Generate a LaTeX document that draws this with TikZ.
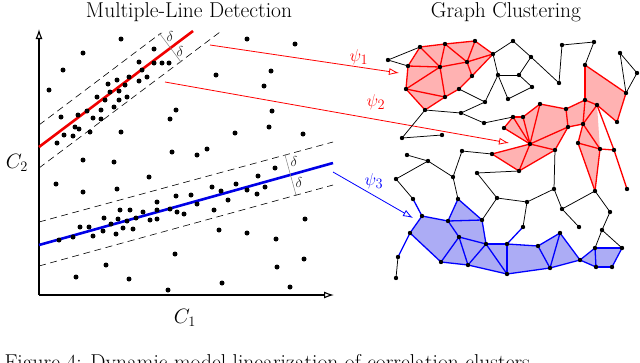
\documentclass[tikz,border=0pt]{standalone}
\usetikzlibrary{arrows.meta}
\definecolor{pinkfill}{RGB}{255,178,178}
\definecolor{bluefill}{RGB}{172,172,245}
\definecolor{gline}{RGB}{0,0,230}
\definecolor{rline}{RGB}{240,0,0}
\begin{document}
\begin{tikzpicture}[x=1pt,y=-1pt,
  titletext/.style={font=\fontsize{21.5}{25}\selectfont, anchor=base},
  axislabel/.style={font=\fontsize{21}{25}\selectfont},
  psilabel/.style={font=\fontsize{19}{22}\selectfont},
  deltalabel/.style={font=\fontsize{15}{17}\selectfont, text=black!85},
  axis/.style={line width=1.1pt, -{Latex[open,length=10pt,width=7pt]}},
  fitline/.style={line width=2.6pt},
  bandline/.style={line width=0.6pt, dash pattern=on 7pt off 4.5pt},
  bracket/.style={gray, line width=0.5pt, {Bar[width=5pt]}-{Bar[width=5pt]}},
  maparrow/.style={line width=0.8pt, -{Latex[open,length=10pt,width=7pt]}},
  bedge/.style={black, line width=0.75pt},
  redge/.style={red, line width=1.3pt},
  blueedge/.style={blue, line width=1.3pt},
  gnode/.style={fill=black}
]
\useasboundingbox (0,0) rectangle (640,362);

% ---------------- titles ----------------
\node[titletext] (t1) at (189,17) {Multiple-Line Detection};
\node[titletext] (t2) at (506,17) {Graph Clustering};

% ---------------- axes ----------------
\coordinate (orig) at (39,295);
\coordinate (ytip) at (39,29);
\coordinate (xtip) at (334,295);
\draw[axis] (orig) -- (ytip);
\draw[axis] (orig) -- (xtip);
\node[axislabel] (c2) at (17,163) {$C_2$};
\node[axislabel] (c1) at (185,318) {$C_1$};

% ---------------- red line and band ----------------
\coordinate (r0) at (39,147);  \coordinate (r1) at (193,31);
\coordinate (ru0) at (39,125); \coordinate (ru1) at (161,33);
\coordinate (rl0) at (39,168); \coordinate (rl1) at (220,32);
\draw[bandline] (ru0) -- (ru1);
\draw[bandline] (rl0) -- (rl1);
\draw[fitline, rline] (r0) -- (r1);
\coordinate (rb0) at (160,34); \coordinate (rb1) at (181,62);
\draw[bracket] (rb0) -- (rb1);
\node[deltalabel] (rd1) at (170,36) {$\delta$};
\node[deltalabel] (rd2) at (180,51) {$\delta$};

% ---------------- blue line and band ----------------
\coordinate (b0l) at (39,245);  \coordinate (b1l) at (333,163);
\coordinate (bu0) at (39,222); \coordinate (bu1) at (333,142);
\coordinate (bl0) at (39,266); \coordinate (bl1) at (333,185);
\draw[bandline] (bu0) -- (bu1);
\draw[bandline] (bl0) -- (bl1);
\draw[fitline, gline] (b0l) -- (b1l);
\coordinate (bb0) at (285,155); \coordinate (bb1) at (296,195);
\draw[bracket] (bb0) -- (bb1);
\node[deltalabel] (bd1) at (294,161) {$\delta$};
\node[deltalabel] (bd2) at (299,182) {$\delta$};

% ---------------- scatter points ----------------
\foreach \x/\y in {121/39,83/53,154/49,63/70,49/90,139/62,154/63,162/63,169/63,142/70,
  129/77,147/77,139/81,117/80,108/84,125/85,119/91,110/92,97/97,105/100,127/97,119/100,
  114/107,101/110,87/111,78/115,61/117,93/118,101/119,75/127,79/129,90/132,64/135,73/136,
  57/143,121/132,176/110,170/119,216/75,247/39,295/44,271/71,264/86,272/111,269/127,
  235/133,303/134,172/152,197/155,207/149,83/160,114/162,149/177,258/176,275/168,
  56/184,83/192,117/189,157/202,176/196,191/195,212/187,221/191,236/184,247/190,257/194,
  265/187,228/200,197/204,120/210,130/210,143/212,157/210,170/209,177/212,184/214,214/210,
  104/218,118/219,136/218,150/220,157/219,127/221,111/224,80/227,89/227,123/228,133/229,
  103/231,116/234,93/236,73/237,59/240,219/230,247/233,305/219,276/239,175/254,106/265,
  277/267,304/259,76/277,129/279,222/283,168/290,290/287}
  \fill (\x,\y) circle[radius=2.5pt];

% ---------------- mapping arrows ----------------
\coordinate (p1s) at (210,45);  \coordinate (p1e) at (399,73);
\coordinate (p2s) at (165,82);  \coordinate (p2e) at (509,143);
\coordinate (p3s) at (333,172); \coordinate (p3e) at (413,218);
\draw[maparrow, red] (p1s) -- (p1e);
\draw[maparrow, red] (p2s) -- (p2e);
\draw[maparrow, blue] (p3s) -- (p3e);
\node[psilabel, text=red] (psi1) at (359,57) {$\psi_1$};
\node[psilabel, text=red] (psi2) at (376,102) {$\psi_2$};
\node[psilabel, text=blue] (psi3) at (374,181) {$\psi_3$};

% ---------------- graph nodes ----------------
\foreach \n/\x/\y in {a1/388/60,a2/420/47,a3/445/44,a4/475/41,a5/493/54,a6/467/62,a7/440/67,
  a8/408/66,a9/406/89,a10/445/97,a11/472/76,a12/459/89,a13/425/110,a14/513/41,a15/531/57,
  a16/498/75,a17/519/75,a18/532/87,a19/508/99,a20/485/102,a21/461/113,a22/484/123,
  a23/513/117,a24/523/117,a25/504/128,a26/540/104,a27/559/83,a28/562/45,a29/594/42,
  a30/585/65,a31/620/53,a32/637/73,a33/626/93,a34/585/100,a35/597/105,a36/566/109,
  a37/617/122,a38/568/127,a39/583/124,a40/530/144,a41/555/150,a42/492/154,a43/519/171,
  a44/578/143,a45/600/149,a46/614/150,a47/402/138,a48/442/135,a49/407/155,a50/428/161,
  a51/453/177,a52/462/151,a53/477/173,a54/396/179,a55/595/191,a56/627/189,
  b1/413/199,b2/422/216,b3/410/233,b4/398/257,b5/396/278,b6/458/199,b7/448/221,
  b8/482/220,b9/459/237,b10/441/262,b11/468/265,b12/486/244,b13/507/244,b14/507/274,
  b15/523/227,b16/538/246,b17/560/233,b18/550/268,b19/580/260,b20/595/248,b21/622/248,
  b22/612/267,b23/596/267,b24/497/198,b25/527/202,b26/554/189,b27/562/209,b28/579/227,
  b30/610/212,b31/602/230}
  \coordinate (\n) at (\x,\y);

% ---------------- cluster fills ----------------
\fill[pinkfill] (a2)--(a3)--(a4)--(a5)--(a11)--(a12)--(a10)--(a13)--(a9)--(a8)--cycle;
\fill[pinkfill] (a25)--(a23)--(a24)--(a26)--(a36)--(a38)--(a41)--(a43)--(a42)--(a40)--cycle;
\fill[pinkfill] (a36)--(a34)--(a39)--(a38)--cycle;
\fill[pinkfill] (a34)--(a30)--(a33)--(a37)--(a35)--cycle;
\fill[pinkfill] (a34)--(a35)--(a39)--cycle;
\fill[pinkfill] (a35)--(a39)--(a44)--(a55)--(a45)--cycle;
\fill[bluefill] (b3)--(b2)--(b7)--(b6)--(b8)--(b12)--(b13)--(b16)--(b17)--(b19)--(b20)
  --(b21)--(b22)--(b23)--(b19)--(b18)--(b14)--(b11)--(b10)--cycle;

% ---------------- black edges ----------------
\foreach \u/\v in {a1/a2,a1/a8,a5/a14,a14/a15,a5/a16,a16/a17,a15/a17,a17/a18,a18/a19,
  a16/a19,a16/a20,a12/a20,a13/a21,a21/a20,a21/a22,a22/a23,a13/a47,a47/a48,a15/a27,
  a27/a28,a28/a29,a29/a30,a31/a32,a31/a33,a32/a33,a49/a50,a50/a51,a51/a52,a50/a54,
  a52/a42,a43/a53,a54/b1,a51/b6,a53/b24,b24/b8,b24/b25,b25/b15,b25/b26,b26/a41,
  b26/b27,b27/b28,b27/a55,a55/b30,b30/b31,b31/b20,b31/b21,b4/b5}
  \draw[bedge] (\u) -- (\v);

% ---------------- red edges ----------------
\foreach \u/\v in {a2/a3,a3/a4,a4/a5,a5/a6,a5/a11,a11/a12,a12/a10,a10/a13,a13/a9,a9/a8,
  a8/a2,a2/a7,a3/a7,a3/a6,a4/a6,a8/a7,a7/a6,a9/a7,a7/a10,a9/a10,a6/a11,
  a25/a23,a23/a24,a24/a26,a26/a36,a36/a34,a34/a30,a30/a33,a33/a37,a37/a35,a35/a34,
  a36/a38,a34/a39,a38/a39,a35/a39,a39/a44,a39/a45,a44/a45,a45/a46,a35/a46,a46/a56,
  a44/a55,a45/a55,a25/a40,a23/a40,a24/a40,a26/a40,a38/a40,a40/a41,a38/a41,a40/a43,
  a40/a42,a42/a43,a41/a43}
  \draw[redge] (\u) -- (\v);

% ---------------- blue edges ----------------
\foreach \u/\v in {b1/b2,b2/b3,b3/b4,b2/b7,b3/b10,b7/b6,b6/b8,b7/b8,b7/b9,b8/b12,b9/b12,
  b9/b10,b9/b11,b10/b11,b11/b12,b11/b14,b12/b13,b12/b14,b13/b14,b13/b15,b13/b16,
  b16/b18,b14/b18,b16/b17,b17/b18,b17/b19,b18/b19,b19/b20,b19/b23,b20/b21,b21/b22,
  b22/b23,b20/b23}
  \draw[blueedge] (\u) -- (\v);

% ---------------- graph vertices ----------------
\foreach \n in {a1,a2,a3,a4,a5,a6,a7,a8,a9,a10,a11,a12,a13,a14,a15,a16,a17,a18,a19,a20,
  a21,a22,a23,a24,a25,a26,a27,a28,a29,a30,a31,a32,a33,a34,a35,a36,a37,a38,a39,a40,
  a41,a42,a43,a44,a45,a46,a47,a48,a49,a50,a51,a52,a53,a54,a55,a56,
  b1,b2,b3,b4,b5,b6,b7,b8,b9,b10,b11,b12,b13,b14,b15,b16,b17,b18,b19,b20,b21,b22,b23,
  b24,b25,b26,b27,b28,b30,b31}
  \fill[gnode] (\n) circle[radius=2.2pt];

% ---------------- clipped caption ----------------
\begin{scope}
\clip (0,0) rectangle (640,362);
\node[titletext, anchor=base west] (cap) at (1,369)
  {Figure 4: Dynamic model linearization of correlation clusters};
\end{scope}
\end{tikzpicture}
\end{document}
